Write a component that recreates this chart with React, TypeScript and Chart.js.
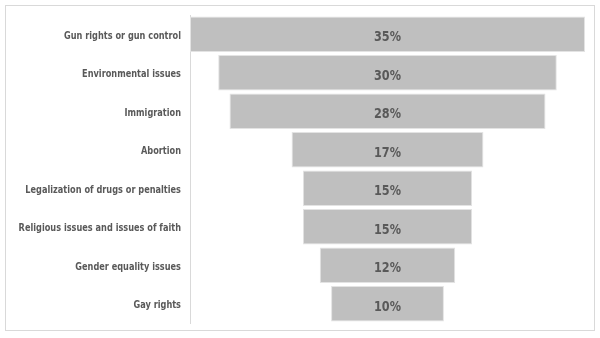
import React, { useEffect, useRef } from "react";
import { Chart, registerables } from "chart.js";

Chart.register(...registerables);

const categories = [
  "Gun rights or gun control",
  "Environmental issues",
  "Immigration",
  "Abortion",
  "Legalization of drugs or penalties",
  "Religious issues and issues of faith",
  "Gender equality issues",
  "Gay rights",
];
const values = [35, 30, 28, 17, 15, 15, 12, 10];
const valueLabels = ["35%", "30%", "28%", "17%", "15%", "15%", "12%", "10%"];

const FONT = "'DejaVu Sans Condensed', 'DejaVu Sans', sans-serif";
const TEXT_COLOR = "#595959";

export default function App() {
  const ref = useRef<HTMLCanvasElement | null>(null);
  useEffect(() => {
    document.body.style.margin = "0";
    const maxV = Math.max(...values);
    const framePlugin = {
      id: "frame",
      beforeDraw(chart: any) {
        const ctx = chart.ctx;
        ctx.save();
        ctx.fillStyle = "#ffffff";
        ctx.fillRect(0, 0, chart.width, chart.height);
        ctx.strokeStyle = "#d9d9d9";
        ctx.lineWidth = 1;
        ctx.strokeRect(5.5, 5.5, 589, 325);
        ctx.restore();
      },
    };
    const labelPlugin = {
      id: "vlabels",
      afterDatasetsDraw(chart: any) {
        const ctx = chart.ctx;
        const meta = chart.getDatasetMeta(0);
        const yScale = chart.scales.y;
        const cx = chart.scales.x.getPixelForValue(0);
        ctx.save();
        ctx.fillStyle = TEXT_COLOR;
        // value labels
        ctx.font = `bold 14px ${FONT}`;
        const vw = ctx.measureText("35%").width;
        const vs = Math.min(1, 27 / vw);
        ctx.textBaseline = "alphabetic";
        meta.data.forEach((el: any, i: number) => {
          ctx.save();
          ctx.translate(cx, el.y + 7);
          ctx.scale(vs, 1);
          ctx.textAlign = "center";
          ctx.fillText(valueLabels[i], 0, 0);
          ctx.restore();
        });
        // category labels
        ctx.font = `bold 11px ${FONT}`;
        const cw = ctx.measureText(categories[0]).width;
        const cs = Math.min(1, 117 / cw);
        const right = yScale.right - 9;
        categories.forEach((c, i) => {
          const y = yScale.getPixelForValue(i);
          ctx.save();
          ctx.translate(right, y + 4.5);
          ctx.scale(cs, 1);
          ctx.textAlign = "right";
          ctx.fillText(c, 0, 0);
          ctx.restore();
        });
        ctx.restore();
      },
    };
    const chart = new Chart(ref.current as HTMLCanvasElement, {
      type: "bar",
      data: {
        labels: categories,
        datasets: [
          {
            data: values.map((v) => [-v / 2, v / 2]) as any,
            backgroundColor: "#bfbfbf",
            borderColor: "#e3e3e3",
            borderWidth: 1,
            borderSkipped: false,
            categoryPercentage: 0.92,
            barPercentage: 1,
          },
        ],
      },
      options: {
        indexAxis: "y",
        animation: false,
        responsive: false,
        maintainAspectRatio: false,
        layout: { padding: { top: 15, bottom: 15, right: 15, left: 0 } },
        plugins: {
          legend: { display: false },
          tooltip: { enabled: false },
        },
        scales: {
          x: {
            display: false,
            min: -maxV / 2,
            max: maxV / 2,
          },
          y: {
            grid: { display: false, drawTicks: false },
            border: { display: true, color: "#d9d9d9", width: 1 },
            ticks: { display: false },
            afterFit(scale: any) {
              scale.width = 190;
            },
          },
        },
      },
      plugins: [framePlugin, labelPlugin],
    });
    return () => chart.destroy();
  }, []);
  return <canvas ref={ref} width={600} height={338} style={{ display: "block" }} />;
}
